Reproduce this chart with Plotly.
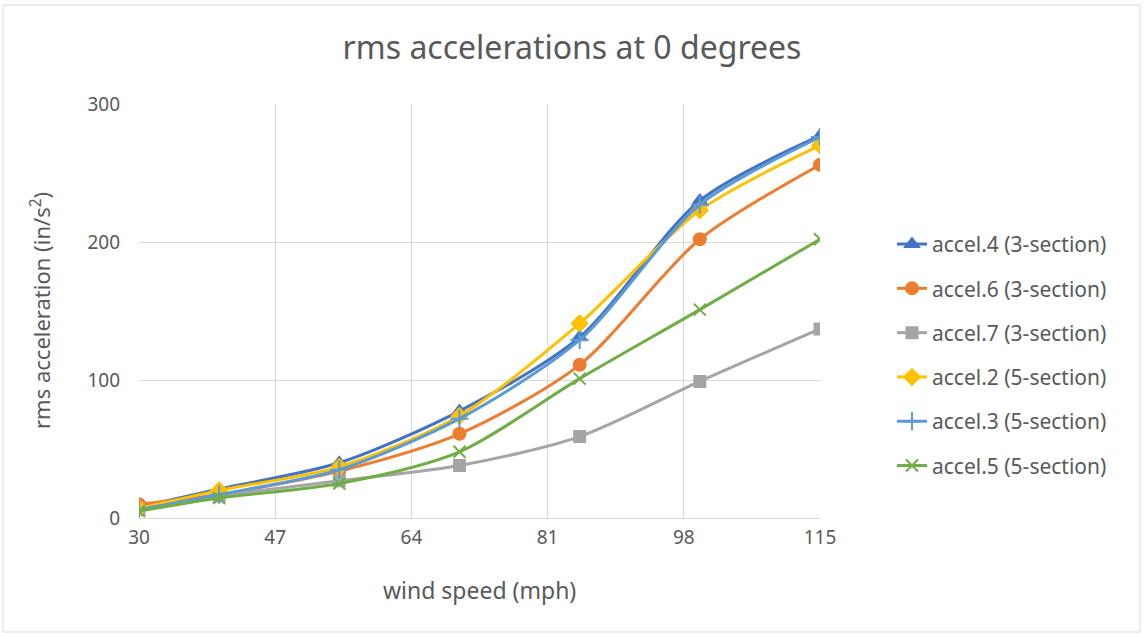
import plotly.graph_objects as go

wind_speed = [30, 40, 55, 70, 85, 100, 115]
accel4_3 = [8, 21, 40, 77.5, 131, 230, 277]
accel6_3 = [10, 17, 34, 61, 111, 202, 256]
accel7_3 = [6, 16, 27, 38, 59, 99, 137]
accel2_5 = [7, 20, 37, 74, 141, 223, 270]
accel3_5 = [6, 17, 35, 72, 129, 227, 276]
accel5_5 = [5, 14.5, 25, 48, 101, 151, 202]

x_ticks = [30, 47, 64, 81, 98, 115]
y_ticks = [0, 100, 200, 300]

series = [
    ("accel.4 (3-section)", accel4_3, "#4472C4", "triangle-up", 12),
    ("accel.6 (3-section)", accel6_3, "#ED7D31", "circle", 12),
    ("accel.7 (3-section)", accel7_3, "#A5A5A5", "square", 11),
    ("accel.2 (5-section)", accel2_5, "#FFC000", "diamond", 12),
    ("accel.3 (5-section)", accel3_5, "#5B9BD5", "cross-thin", 13),
    ("accel.5 (5-section)", accel5_5, "#70AD47", "x-thin", 12),
]

fig = go.Figure()
for i, (name, vals, color, sym, size) in enumerate(series):
    fig.add_trace(go.Scatter(
        x=wind_speed, y=vals, name=name, mode="lines+markers",
        line=dict(color=color, width=3, shape="spline", smoothing=0.8),
        marker=dict(symbol=sym, size=size, color=color,
                    line=dict(color=color, width=2)),
        legendgroup=f"g{i}",
    ))

font = "Noto Sans"
W, H = 1144, 637
fig.update_layout(
    width=W, height=H,
    margin=dict(l=139, r=W - 820, t=104, b=H - 518),
    paper_bgcolor="white", plot_bgcolor="white",
    title=dict(text="rms accelerations at 0 degrees", x=572 / W, xanchor="center",
               y=1 - 48 / H, yanchor="middle",
               font=dict(family=font, size=32, color="#595959")),
    font=dict(family=font, color="#595959"),
    legend=dict(x=(892 - 139) / 681, xanchor="left", y=0.394, yanchor="middle",
                font=dict(family=font, size=21, color="#595959"),
                tracegroupgap=14, bgcolor="rgba(0,0,0,0)"),
    xaxis=dict(range=[30, 115], tickvals=x_ticks, showgrid=True,
               gridcolor="#d9d9d9", gridwidth=1, zeroline=False,
               showline=True, linecolor="#d9d9d9", linewidth=1,
               tickfont=dict(size=19, color="#595959"),
               ticklabelstandoff=2),
    yaxis=dict(range=[0, 300], tickvals=y_ticks, showgrid=True,
               gridcolor="#d9d9d9", gridwidth=1, zeroline=False,
               showline=False,
               tickfont=dict(size=19, color="#595959"),
               ticklabelstandoff=18),
    annotations=[
        dict(text="wind speed (mph)", xref="paper", yref="paper",
             x=0.5, y=(518 - 590) / 414, xanchor="center", yanchor="middle",
             showarrow=False, font=dict(family=font, size=23, color="#595959")),
        dict(text="rms acceleration (in/s<sup>2</sup>)", xref="paper", yref="paper",
             x=(40 - 139) / 681, y=0.5, xanchor="center", yanchor="middle",
             textangle=-90, showarrow=False,
             font=dict(family=font, size=22, color="#595959")),
    ],
    shapes=[
        dict(type="rect", xref="paper", yref="paper",
             x0=(3 - 139) / 681, x1=(1140 - 139) / 681,
             y0=(518 - 632) / 414, y1=(518 - 5) / 414,
             line=dict(color="#d9d9d9", width=1), fillcolor="rgba(0,0,0,0)",
             layer="below"),
    ],
)
fig.write_html("out.html", config={"displayModeBar": False},
               post_script="document.body.style.margin='0px';document.body.style.padding='0px';")
